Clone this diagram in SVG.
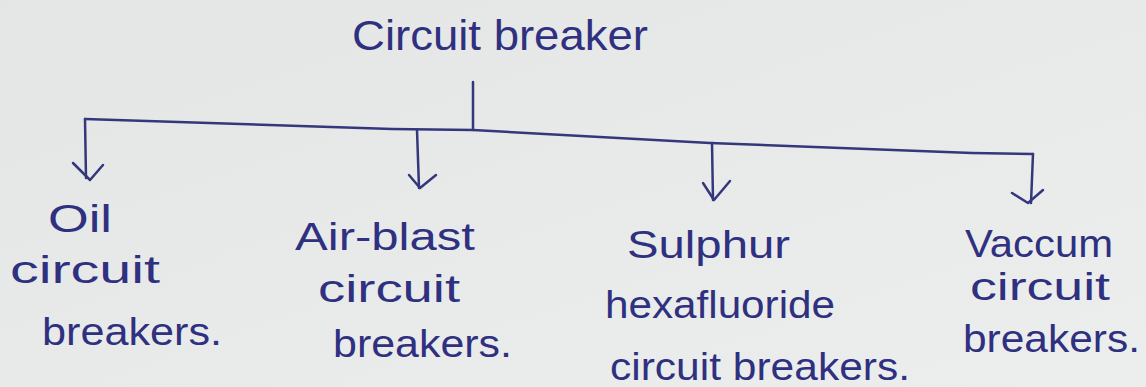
<svg xmlns="http://www.w3.org/2000/svg" width="1146" height="387" viewBox="0 0 1146 387">
  <defs>
    <linearGradient id="paper" x1="0" y1="0" x2="1" y2="1">
      <stop offset="0" stop-color="#e3e6e5"/>
      <stop offset="0.6" stop-color="#e8ebea"/>
      <stop offset="1" stop-color="#eceeed"/>
    </linearGradient>
  </defs>
  <style>
    .ink { font-family: "Liberation Sans", Arial, sans-serif; fill: #2f3080; font-size: 38px; }
    .title { font-size: 42px; }
    .line { fill: none; stroke: #35377c; stroke-width: 2.5; stroke-linecap: round; stroke-linejoin: round; }
  </style>
  <rect x="0" y="0" width="1146" height="387" fill="url(#paper)"/>

  <g id="connectors">
    <path class="line" d="M473,82 L473,130"/>
    <path class="line" d="M85,119 L392,129 L473,130 L710,143 L972,153 L1033,154"/>
    <path class="line" d="M85,119 L86,178"/>
    <path class="line" d="M73,163 L90,180 L103,165"/>
    <path class="line" d="M417,130 L419,188"/>
    <path class="line" d="M409,175 L420,188 L436,175"/>
    <path class="line" d="M712,143 L713,200"/>
    <path class="line" d="M703,183 L714,200 L730,181"/>
    <path class="line" d="M1033,154 L1031,203"/>
    <path class="line" d="M1012,193 L1028,203 L1043,190"/>
  </g>

  <g id="root">
    <text class="ink title" x="352" y="50" textLength="296" lengthAdjust="spacingAndGlyphs">Circuit breaker</text>
  </g>

  <g id="oil">
    <text class="ink" x="48" y="232" textLength="64" lengthAdjust="spacingAndGlyphs">Oil</text>
    <text class="ink" x="10" y="283" textLength="150" lengthAdjust="spacingAndGlyphs">circuit</text>
    <text class="ink" x="42" y="345" textLength="180" lengthAdjust="spacingAndGlyphs">breakers.</text>
  </g>

  <g id="air-blast">
    <text class="ink" x="295" y="250" textLength="180" lengthAdjust="spacingAndGlyphs">Air-blast</text>
    <text class="ink" x="318" y="302" textLength="142" lengthAdjust="spacingAndGlyphs">circuit</text>
    <text class="ink" x="333" y="357" textLength="179" lengthAdjust="spacingAndGlyphs">breakers.</text>
  </g>

  <g id="sf6">
    <text class="ink" x="627" y="258" textLength="163" lengthAdjust="spacingAndGlyphs">Sulphur</text>
    <text class="ink" x="605" y="318" textLength="230" lengthAdjust="spacingAndGlyphs">hexafluoride</text>
    <text class="ink" x="610" y="380" textLength="300" lengthAdjust="spacingAndGlyphs">circuit breakers.</text>
  </g>

  <g id="vacuum">
    <text class="ink" x="965" y="257" textLength="148" lengthAdjust="spacingAndGlyphs">Vaccum</text>
    <text class="ink" x="970" y="300" textLength="140" lengthAdjust="spacingAndGlyphs">circuit</text>
    <text class="ink" x="963" y="352" textLength="177" lengthAdjust="spacingAndGlyphs">breakers.</text>
  </g>
</svg>
